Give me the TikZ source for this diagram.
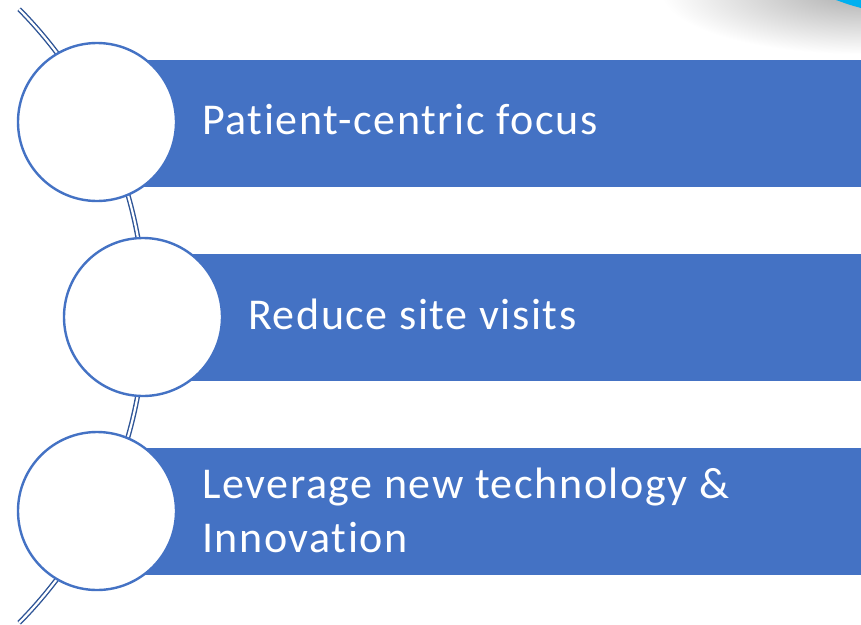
\documentclass[tikz,border=0pt]{standalone}
\usepackage{fontspec}
\setmainfont{Carlito}[Ligatures=NoCommon]
\newfontfamily\barfont{Carlito}[LetterSpace=3.6, Ligatures=NoCommon]
\usetikzlibrary{calc}
\definecolor{barblue}{HTML}{4472C4}
\definecolor{spine}{HTML}{2F5597}
\definecolor{accent}{HTML}{00B0F0}
\begin{document}
\begin{tikzpicture}[x=1pt,y=-1pt,
  bar/.style={fill=barblue, draw=none, inner sep=0pt, anchor=north west},
  disc/.style={circle, fill=white, draw=barblue, line width=2.4pt, inner sep=0pt, minimum size=158pt},
  label/.style={text=white, font=\barfont\fontsize{44}{54}\selectfont, align=left, inner sep=0pt, anchor=base west},
  spinepath/.style={draw=spine, line width=1.4pt, double=white, double distance=2.2pt}]
\useasboundingbox (0,0) rectangle (861,624);
\fill[white] (0,0) rectangle (861,624);

% slide corner decoration: soft shadow and accent wedge
\begin{scope}
  \clip (660,0) rectangle (861,70);
  \shade[inner color=black!32, outer color=white] (861,-8) ellipse[x radius=200, y radius=62];
\end{scope}
\fill[accent] (836,0) -- (861,0) -- (861,8) .. controls (850,5) .. (836,0) -- cycle;

% curved spine behind the discs
\coordinate (hub) at (-292,316);
\draw[spinepath] ($(hub)+(-44.6:437)$) arc[start angle=-44.6, end angle=44.6, radius=437];

% bars
\node[bar, minimum width=721pt, minimum height=127pt] (bar1) at (140,60) {};
\node[bar, minimum width=681pt, minimum height=127pt] (bar2) at (180,254) {};
\node[bar, minimum width=721pt, minimum height=127pt] (bar3) at (140,448) {};

% discs
\node[disc] (c1) at (97,122) {};
\node[disc] (c2) at (143,317) {};
\node[disc] (c3) at (97,511) {};

% labels
\node[label] (t1) at (202,134) {Patient-centric focus};
\node[label] (t2) at (248,329) {Reduce site visits};
\node[label] (t3) at (202,552) {Leverage new technology \&\\Innovation};
\end{tikzpicture}
\end{document}
